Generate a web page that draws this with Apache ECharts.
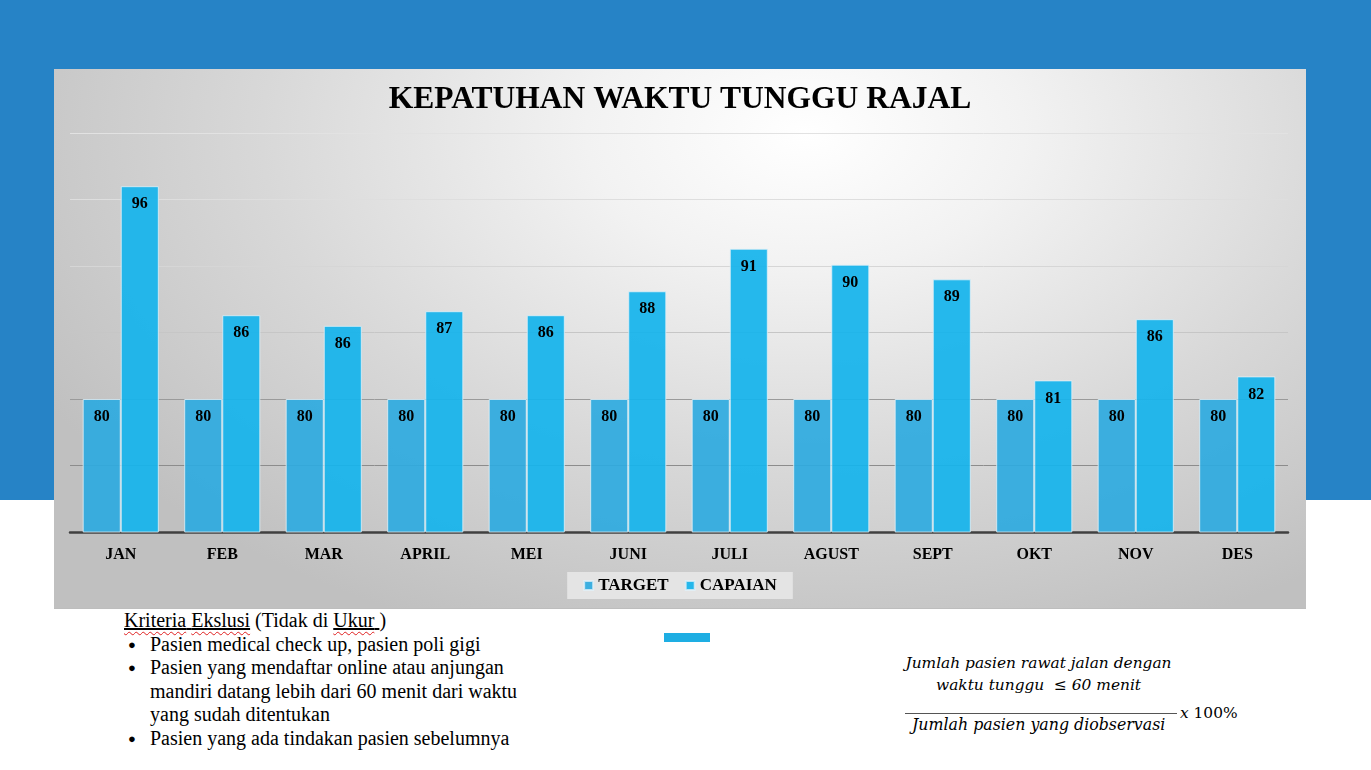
<!DOCTYPE html>
<html>
<head>
<meta charset="utf-8">
<script src="https://cdn.jsdelivr.net/npm/echarts@6/dist/echarts.min.js"></script>
<style>
  html, body { margin: 0; padding: 0; }
  body { width: 1371px; height: 770px; position: relative; overflow: hidden; background: #ffffff; font-family: "Liberation Serif", "Times New Roman", serif; }
  #band { position: absolute; left: 0; top: 0; width: 1371px; height: 500px; background: #2683c6; }
  #panel { position: absolute; left: 54px; top: 69px; width: 1252px; height: 539px;
    background: radial-gradient(ellipse 70% 100% at 60% 12%, #ffffff 0%, #f2f2f2 25%, #d8d8d8 62%, #c0c0c0 100%);
    border-bottom: 1px solid #bdbdbd; }
  #chart { width: 1252px; height: 539px; }
  #notes { position: absolute; left: 124px; top: 609px; font-size: 20px; line-height: 23.6px; color: #000; }
  #notes ul { margin: 0; padding: 0 0 0 26px; list-style: none; }
  #notes li { position: relative; width: 378px; }
  #notes li:before { content: "\25CF"; position: absolute; left: -22px; top: 0; font-size: 13px; }
  .u { text-decoration: underline; }
  .w { text-decoration: underline wavy #e02020; text-underline-offset: 4px; text-decoration-thickness: 1px; }
  #mark { position: absolute; left: 664px; top: 633px; width: 46px; height: 9px; background: #1eaee3; }
  #formula { position: absolute; left: 900px; top: 652px; font-family: "DejaVu Serif", serif; font-style: italic; font-size: 15.4px; color: #000; }
  #formula .num { width: 277px; text-align: center; line-height: 22px; }
  #formula .bar { position: absolute; left: 5px; top: 61px; width: 272px; border-top: 1px solid #555; }
  #formula .den { position: absolute; left: 12px; top: 63px; white-space: nowrap; font-size: 15.8px; }
  #formula .pct { position: absolute; left: 280px; top: 52px; white-space: nowrap; font-style: normal; }
</style>
</head>
<body>
<div id="band"></div>
<div id="panel"><div id="chart"></div></div>
<div id="notes">
  <div><span class="u"><span class="w">Kriteria</span> <span class="w">Ekslusi</span></span> (Tidak di <span class="u"><span class="w">Ukur</span> </span>)</div>
  <ul>
    <li>Pasien medical check up, pasien poli gigi</li>
    <li>Pasien yang mendaftar online atau anjungan mandiri datang lebih dari 60 menit dari waktu yang sudah ditentukan</li>
    <li>Pasien yang ada tindakan pasien sebelumnya</li>
  </ul>
</div>
<div id="mark"></div>
<div id="formula">
  <div class="num">Jumlah pasien rawat jalan dengan<br>waktu tunggu&nbsp; ≤ 60 menit</div>
  <div class="bar"></div>
  <div class="den">Jumlah pasien yang diobservasi</div>
  <div class="pct"><i>x</i> 100%</div>
</div>
<script>
var months = ['JAN','FEB','MAR','APRIL','MEI','JUNI','JULI','AGUST','SEPT','OKT','NOV','DES'];
var target = [80, 80, 80, 80, 80, 80, 80, 80, 80, 80, 80, 80];
var capaian = [96.0, 86.3, 85.5, 86.6, 86.3, 88.1, 91.3, 90.1, 89.0, 81.4, 86.0, 81.7];

var serif = '"Liberation Serif", "Times New Roman", serif';
var barLabel = {
    show: true,
    position: 'insideTop',
    distance: 10,
    color: '#000',
    fontFamily: serif,
    fontWeight: 'bold',
    fontSize: 16,
    formatter: function (p) { return Math.round(p.value); }
};

var option = {
    animation: false,
    title: {
        text: 'KEPATUHAN WAKTU TUNGGU RAJAL',
        left: 'center',
        top: 10,
        textStyle: { fontFamily: serif, fontWeight: 'bold', fontSize: 31.5, color: '#000' }
    },
    legend: {
        data: ['TARGET', 'CAPAIAN'],
        left: 'center',
        top: 503,
        padding: [5, 16, 5, 16],
        backgroundColor: '#e4e4e4',
        itemWidth: 9,
        itemHeight: 9,
        itemGap: 16,
        icon: 'rect',
        textStyle: { fontFamily: serif, fontWeight: 'bold', fontSize: 17, color: '#000' }
    },
    grid: { left: 16, right: 18, top: 64, bottom: 76, containLabel: false },
    xAxis: [{
        type: 'category',
        data: months,
        axisLine: { lineStyle: { color: '#404040', width: 2.5 } },
        axisTick: { show: false },
        axisLabel: { margin: 15, color: '#000', fontFamily: serif, fontWeight: 'bold', fontSize: 16 }
    }],
    yAxis: [{
        type: 'value',
        min: 70,
        max: 100,
        interval: 5,
        axisLine: { show: false },
        axisTick: { show: false },
        axisLabel: { show: false },
        splitLine: { lineStyle: { color: ['#404040', '#8c8c8c', '#9a9a9a', '#c6c6c6', '#d6d6d6', '#dedede', '#e2e2e2'], width: 1 } }
    }],
    series: [
        {
            name: 'TARGET',
            type: 'bar',
            barWidth: '37.5%',
            barGap: '0%',
            itemStyle: { color: 'rgba(46,170,223,0.92)', borderColor: 'rgba(225,240,248,0.8)', borderWidth: 1 },
            label: barLabel,
            data: target
        },
        {
            name: 'CAPAIAN',
            type: 'bar',
            barWidth: '37.5%',
            itemStyle: { color: 'rgba(22,180,236,0.93)', borderColor: 'rgba(225,240,248,0.8)', borderWidth: 1 },
            label: barLabel,
            data: capaian
        }
    ]
};
var chart = echarts.init(document.getElementById('chart'));
chart.setOption(option);
</script>
</body>
</html>
